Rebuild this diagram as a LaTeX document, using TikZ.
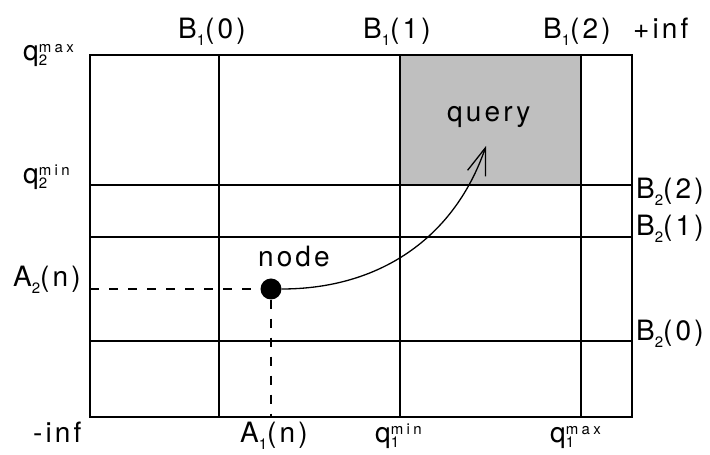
\documentclass[tikz,border=0pt]{standalone}
\usepackage{fontspec}
\setmainfont[LetterSpace=11]{TeX Gyre Heros}
\usetikzlibrary{arrows.meta}

% small script text, set with wider tracking
\newcommand\smallscr[1]{{\fontsize{15}{15}\selectfont\addfontfeature{LetterSpace=23}#1}}
\newcommand\lsub[1]{\raisebox{-7pt}{\smallscr{#1}}}
\newcommand\qlab[2]{q\rlap{\raisebox{-5pt}{\smallscr{#1}}}\raisebox{8pt}{\smallscr{#2}}}

\begin{document}
\begin{tikzpicture}[x=1pt,y=1pt,
  lbl/.style={inner sep=0pt, anchor=base west, font=\fontsize{28}{32}\selectfont},
  gridline/.style={line width=2.2pt, line cap=rect},
  guide/.style={line width=1.2pt, dash pattern=on 9pt off 10pt},
  dot/.style={circle, fill=black, inner sep=0pt, minimum size=21pt},
  link/.style={line width=1.3pt, -{Straight Barb[length=27pt,width=19pt,line width=1.3pt]}}]

\useasboundingbox (0,0) rectangle (710,455);

% query region
\fill[black!25] (400,270) rectangle (581,400);

% grid
\draw[gridline] (90,38) rectangle (632,400);
\foreach \x in {219,400,581} \draw[gridline] (\x,38) -- (\x,400);
\foreach \y in {114,218,270} \draw[gridline] (90,\y) -- (632,\y);

% node and its projections
\node[dot] (n) at (271,166) {};
\coordinate (a2) at (90,166);
\coordinate (a1) at (271,38);
\coordinate (qtip) at (486,309);
\draw[guide] (a2) -- (n.west);
\draw[guide] (n.south) -- (a1);
\draw[link] (n.east) to[out=0,in=-109] (qtip);

% labels
\node[lbl] (ln) at (258,188) {node};
\node[lbl] (lq) at (447,333) {query};

\node[lbl] (q2max) at (23,394) {\qlab{2}{max}};
\node[lbl] (q2min) at (23,271) {\qlab{2}{min}};
\node[lbl] (a2n) at (13,168) {A\lsub{2}(n)};
\node[lbl] (minf) at (33,12) {-inf};

\node[lbl] (b10) at (178,416) {B\lsub{1}(0)};
\node[lbl] (b11) at (363,416) {B\lsub{1}(1)};
\node[lbl] (b12) at (543,416) {B\lsub{1}(2)};
\node[lbl] (pinf) at (633,416) {+inf};

\node[lbl] (b22) at (636,256) {B\lsub{2}(2)};
\node[lbl] (b21) at (636,219) {B\lsub{2}(1)};
\node[lbl] (b20) at (636,114) {B\lsub{2}(0)};

\node[lbl] (a1n) at (240,12) {A\lsub{1}(n)};
\node[lbl] (q1min) at (375,12) {\qlab{1}{min}};
\node[lbl] (q1max) at (550,12) {\qlab{1}{max}};
\end{tikzpicture}
\end{document}
